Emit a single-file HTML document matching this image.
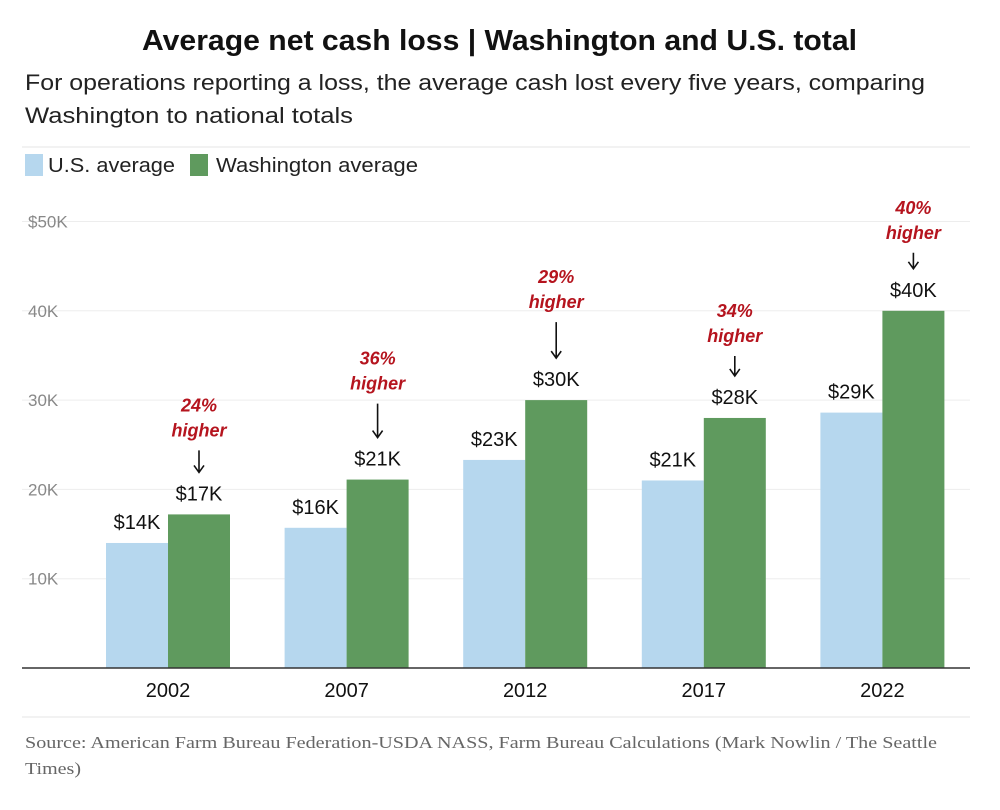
<!DOCTYPE html>
<html><head><meta charset="utf-8">
<style>
body{margin:0;background:#fff;width:1000px;height:805px;overflow:hidden;font-family:"Liberation Sans","DejaVu Sans",sans-serif;}
</style></head>
<body>
<svg id="chart" width="1000" height="805" viewBox="0 0 1000 805">
<text x="142" y="50" textLength="715" lengthAdjust="spacingAndGlyphs" font-size="29" font-weight="bold" fill="#111">Average net cash loss | Washington and U.S. total</text>
<text x="25" y="90" textLength="900" lengthAdjust="spacingAndGlyphs" font-size="22" fill="#222">For operations reporting a loss, the average cash lost every five years, comparing</text>
<text x="25" y="123" textLength="328" lengthAdjust="spacingAndGlyphs" font-size="22" fill="#222">Washington to national totals</text>
<line x1="22" y1="147" x2="970" y2="147" stroke="#e6e6e6"/>
<g>
<rect x="25" y="154" width="18" height="22" fill="#b6d7ee"/>
<text x="48" y="172" textLength="127" lengthAdjust="spacingAndGlyphs" font-size="20" fill="#222">U.S. average</text>
<rect x="190" y="154" width="18" height="22" fill="#5f9a5e"/>
<text x="216" y="172" textLength="202" lengthAdjust="spacingAndGlyphs" font-size="20" fill="#222">Washington average</text>
</g>
<g id="grid"></g>
<g id="bars"></g>
<g id="ann"></g>
<line x1="22" y1="717" x2="970" y2="717" stroke="#e6e6e6"/>
<text x="25" y="748" textLength="912" lengthAdjust="spacingAndGlyphs" font-family="Liberation Serif, serif" font-size="17" fill="#666">Source: American Farm Bureau Federation-USDA NASS, Farm Bureau Calculations (Mark Nowlin / The Seattle</text>
<text x="25" y="774" textLength="56" lengthAdjust="spacingAndGlyphs" font-family="Liberation Serif, serif" font-size="17" fill="#666">Times)</text>
</svg>
<script>
const years=["2002","2007","2012","2017","2022"];
const usValues=[14,15.7,23.3,21,28.6];
const waValues=[17.2,21.1,30,28,40];
const usLabels=["$14K","$16K","$23K","$21K","$29K"];
const waLabels=["$17K","$21K","$30K","$28K","$40K"];
const pctLabels=["24%","36%","29%","34%","40%"];
const yTicks=[10,20,30,40,50];
const yTickLabels=["10K","20K","30K","40K","$50K"];
const arrowLen=[22,34,36,20,16];

const NS="http://www.w3.org/2000/svg";
const y0=668, pxPer=8.93;
function yScale(v){return y0-v*pxPer;}
function xCenter(i){return 168+i*178.6;}
function mk(tag,attrs,parent,txt){const e=document.createElementNS(NS,tag);for(const k in attrs)e.setAttribute(k,attrs[k]);if(txt!==undefined)e.textContent=txt;parent.appendChild(e);return e;}
const grid=document.getElementById('grid'),bars=document.getElementById('bars'),ann=document.getElementById('ann');
yTicks.forEach((t,i)=>{
  const l=mk('line',{x1:22,x2:970,y1:yScale(t),y2:yScale(t),stroke:'#ededed'},grid);
  
  
  const tx=mk('text',{x:28,y:yScale(t)+6,'font-size':17,fill:'#888'},grid,yTickLabels[i]);
  
  
});
const bw=62;
years.forEach((yr,i)=>{
  const c=xCenter(i);
  const ub=mk('rect',{x:c-bw,y:yScale(usValues[i]),width:bw,height:usValues[i]*pxPer,fill:'#b6d7ee'},bars);
  
  
  const wb=mk('rect',{x:c,y:yScale(waValues[i]),width:bw,height:waValues[i]*pxPer,fill:'#5f9a5e'},bars);
  
  
  const ul=mk('text',{x:c-bw/2,y:yScale(usValues[i])-14,'text-anchor':'middle','font-size':20,fill:'#111'},ann,usLabels[i]);
  
  
  const wy=yScale(waValues[i])-14;
  const wl=mk('text',{x:c+bw/2,y:wy,'text-anchor':'middle','font-size':20,fill:'#111'},ann,waLabels[i]);
  
  
  const ax=c+bw/2, aBot=wy-28, aTop=aBot-arrowLen[i];
  const ar=mk('path',{d:`M${ax} ${aTop} L${ax} ${aBot} M${ax-5} ${aBot-7} L${ax} ${aBot} L${ax+5} ${aBot-7}`,stroke:'#111','stroke-width':1.6,fill:'none'},ann);
  
  
  const h=mk('text',{x:ax,y:aTop-14,'text-anchor':'middle','font-size':18,'font-weight':'bold','font-style':'italic',fill:'#b5141e'},ann,'higher');
  
  
  const p=mk('text',{x:ax,y:aTop-39,'text-anchor':'middle','font-size':18,'font-weight':'bold','font-style':'italic',fill:'#b5141e'},ann,pctLabels[i]);
  
  
  const xl=mk('text',{x:c,y:697,'text-anchor':'middle','font-size':20,fill:'#111'},ann,yr);
  
  
});
const base=mk('line',{x1:22,x2:970,y1:y0,y2:y0,stroke:'#333','stroke-width':1.5},ann);


</script>
</body></html>
